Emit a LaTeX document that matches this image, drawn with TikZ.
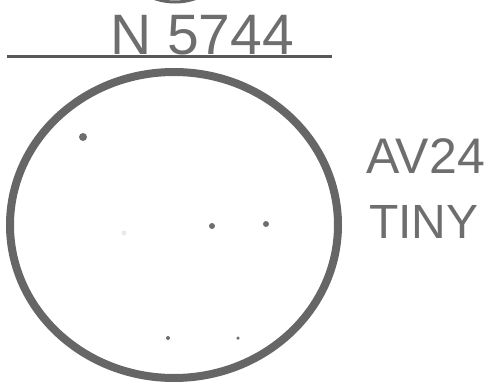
\documentclass[tikz,border=0pt]{standalone}
\usepackage{fontspec}
\setmainfont{Liberation Sans}
\usepackage{tikz}
\usepackage{xcolor}
\definecolor{pencil}{HTML}{6E6E6E}
\definecolor{ring}{HTML}{666666}

\begin{document}
\begin{tikzpicture}[x=1pt,y=-1pt,
    estrela/.style={circle, fill=pencil, inner sep=0pt, minimum size=#1},
    escrita/.style={text=pencil, font=\fontsize{48}{48}\selectfont, inner sep=0pt}]
        \useasboundingbox (0,0) rectangle (490,388);

        % Resto do campo anterior
        \begin{scope}
            \clip (0,0) rectangle (490,388);
            \draw[ring, line width=3pt] (175,-60) circle (62);
        \end{scope}

        % Titulo
        \node[escrita, font=\fontsize{57}{57}\selectfont, anchor=base] (titulo) at (202,54) {N 5744};
        \draw[pencil!80!black, line width=3pt] (7,56) -- (332,56);

        % Campo da ocular
        \draw[ring, line width=8pt] (174,225) ellipse (164 and 153);

        % Estrelas
        \node[estrela=8pt] (e1) at (83,137) {};
        \node[estrela=6pt] (e2) at (212,226) {};
        \node[estrela=6pt, minimum height=5pt] (e3) at (266,224) {};
        \node[estrela=4pt] (e4) at (168,338) {};
        \node[estrela=3.5pt] (e5) at (238,338) {};
        \node[estrela=5pt, fill=pencil!15] (e6) at (124,233) {};

        % Notas
        \node[escrita, font=\fontsize{50}{50}\selectfont, anchor=base west] (nota1) at (366,173) {AV24};
        \node[escrita, anchor=base west] (nota2) at (369,238) {TINY};
    \end{tikzpicture}
\end{document}
